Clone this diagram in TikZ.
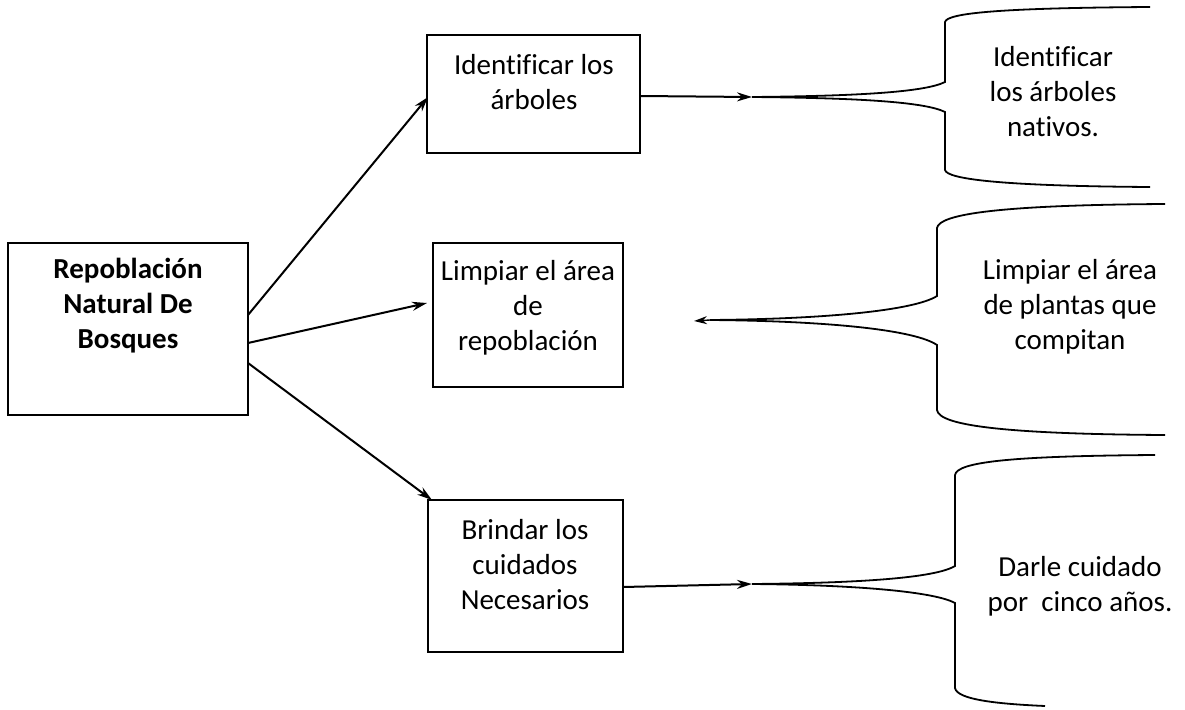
\documentclass[tikz,border=0pt]{standalone}
\usepackage{fontspec}
\setmainfont{Carlito}[Ligatures=CommonOff]
\usetikzlibrary{arrows.meta}
\begin{document}
\begin{tikzpicture}[x=1pt,y=-1pt,
  boxnode/.style={draw=black,line width=1.4pt,rectangle,inner sep=0pt},
  txt/.style={align=center,inner sep=0pt,font=\fontsize{29}{35}\selectfont},
  conn/.style={line width=2pt,-{Stealth[length=15pt,width=9pt]}},
  bracepath/.style={line width=1.8pt}]
\useasboundingbox (0,0) rectangle (1185,709);
% boxes
\node[boxnode,minimum width=240pt,minimum height=172pt] (main) at (128,329) {};
\node[boxnode,minimum width=213pt,minimum height=118pt] (b1) at (533.5,94) {};
\node[boxnode,minimum width=190pt,minimum height=144pt] (b2) at (528,315) {};
\node[boxnode,minimum width=195pt,minimum height=152pt] (b3) at (525.5,576) {};
% texts
\node[txt] (tmain) at (128,306) {\bfseries Repoblación\\\bfseries Natural De\\\bfseries Bosques};
\node[txt] (t1) at (534,82) {Identificar los\\árboles};
\node[txt] (t2) at (528,308) {Limpiar el área\\de\\repoblación};
\node[txt] (t3) at (525,565) {Brindar los\\cuidados\\Necesarios};
\node[txt] (r1) at (1053,92) {Identificar\\los árboles\\nativos.};
\node[txt] (r2) at (1070,307) {Limpiar el área\\de plantas que\\compitan};
\node[txt] (r3) at (1080,586) {Darle cuidado\\por\ \ cinco años.};
% connector anchors
\coordinate (m1) at (248,315);
\coordinate (m2) at (248,343);
\coordinate (m3) at (248,363);
\coordinate (e1) at (428,97);
\coordinate (e2) at (427,303);
\coordinate (e3) at (432,500);
\coordinate (s1) at (640,96);
\coordinate (s3) at (623,587);
\coordinate (k1) at (752,97);
\coordinate (k2) at (710,320);
\coordinate (k2a) at (694,321);
\coordinate (k3) at (752,584);
% connectors
\draw[conn] (m1) -- (e1);
\draw[conn] (m2) -- (e2);
\draw[conn] (m3) -- (e3);
\draw[conn] (s1) -- (k1);
\draw[conn] (s3) -- (k3);
\draw[line width=1.4pt,-{Stealth[length=13pt,width=8pt]}] (k2) -- (k2a);
% braces
\draw[bracepath] (k1) .. controls (860,96) and (925,92) .. (945,82) -- (945,22)
  .. controls (947,13) and (1000,8) .. (1150,7);
\draw[bracepath] (k1) .. controls (860,98) and (925,102) .. (945,112) -- (945,170)
  .. controls (947,179) and (1000,186) .. (1150,187);
\draw[bracepath] (k2) .. controls (830,319) and (915,310) .. (937,296) -- (937,228)
  .. controls (939,214) and (1000,205) .. (1165,204);
\draw[bracepath] (k2) .. controls (830,321) and (915,330) .. (937,345) -- (937,410)
  .. controls (939,425) and (1000,434) .. (1165,435);
\draw[bracepath] (k3) .. controls (860,583) and (935,578) .. (955,566) -- (955,475)
  .. controls (957,462) and (1010,456) .. (1155,455);
\draw[bracepath] (k3) .. controls (860,585) and (935,592) .. (955,603) -- (955,688)
  .. controls (957,700) and (1000,704) .. (1045,706);
\end{tikzpicture}
\end{document}
